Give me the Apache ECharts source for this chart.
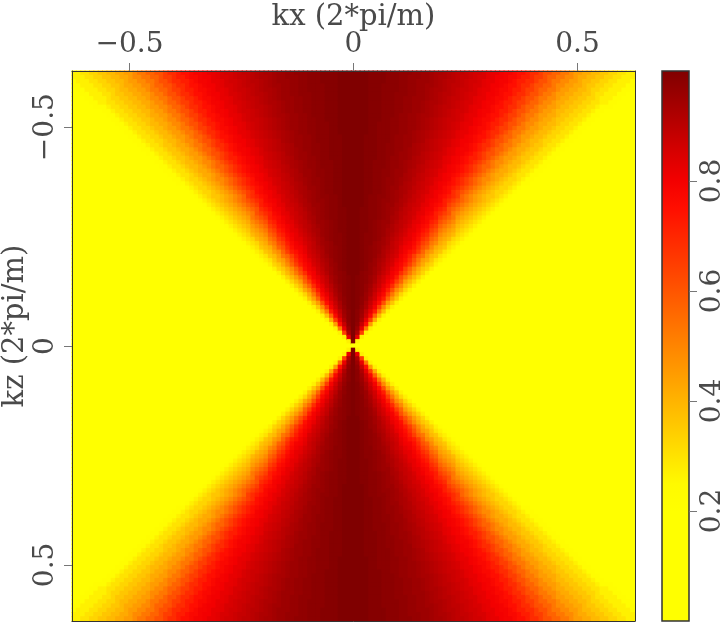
<!DOCTYPE html>
<html><head><meta charset="utf-8">
<script src="https://cdn.jsdelivr.net/npm/echarts@6/dist/echarts.min.js"></script>
<style>html,body{margin:0;padding:0;background:#fff}#c{width:722px;height:625px}</style>
</head><body><div id="c"></div>
<script>
const profileAngles = [0,1,2,3,4,5,6,7,8,9,10,11,12,13,14,15,16,17,18,19,20,21,22,23,24,25,26,27,28,29,30,31,32,33,34,35,36,37,38,39,40,41,42,43,44,45,46,47,48,49,50];
const profileValues = [1.00,1.00,1.00,1.00,0.99,0.99,0.99,0.98,0.98,0.98,0.97,0.97,0.96,0.96,0.95,0.95,0.94,0.93,0.92,0.91,0.90,0.89,0.88,0.87,0.86,0.85,0.83,0.82,0.80,0.79,0.77,0.75,0.72,0.69,0.65,0.61,0.57,0.53,0.49,0.45,0.42,0.39,0.36,0.33,0.30,0.27,0.22,0.16,0.10,0.05,0.02];
const outsideValue = 0;           // beyond the last angle: yellow
const nCells = 129;               // samples per axis, centred on k = 0
const kStep = 0.00974;            // sample interval (2*pi/m)
const axisTicks = [-0.5, 0, 0.5];
const barTicks = [0.2, 0.4, 0.6, 0.8];
const barMin = 0, barMax = 1;
// colour ramp, evenly spaced from 0 to 1
const rampColors = ['#ffff00','#ffff00','#ffff00','#ffff00','#ffff00','#fffa00','#ffe300','#ffcb00','#ffb400','#ff9c00','#ff8500','#ff6d00','#ff5500','#ff3d00','#ff2600','#ff0e00','#f30000','#d80000','#ba0000','#9d0000','#800000'];

const half = (nCells - 1) / 2;
const kMax = (half + 0.5) * kStep;
const data = [];
for (let i = 0; i < nCells; i++) {
  for (let j = 0; j < nCells; j++) {
    const a = (i - half), b = (j - half);
    let v = outsideValue;
    if (!(a === 0 && b === 0)) {
      const ang = Math.atan2(Math.abs(a), Math.abs(b)) * 180 / Math.PI;
      const idx = profileAngles.indexOf(Math.round(ang));
      if (idx >= 0) v = profileValues[idx];
    }
    data.push([a * kStep, b * kStep, v]);
  }
}

const L = { left: 72, top: 71, width: 563, height: 550 };
const B = { left: 662, top: 71, width: 27, height: 550 };
const font = 'DejaVu Serif';
const txt = '#4a4a4a';
const tickColor = '#777';
const frame = { show: true, onZero: false, lineStyle: { color: '#333', width: 1 } };
const fmt = v => v < 0 ? '\u2212' + Math.abs(v) : String(v);

const stops = rampColors.map((c, k) => ({ offset: 1 - k / (rampColors.length - 1), color: c })).reverse();

const chart = echarts.init(document.getElementById('c'));
chart.setOption({
  animation: false,
  backgroundColor: '#fff',
  grid: [
    { left: L.left, top: L.top, width: L.width, height: L.height, containLabel: false, outerBoundsMode: 'none' },
    { left: B.left, top: B.top, width: B.width, height: B.height, containLabel: false, outerBoundsMode: 'none' }
  ],
  xAxis: [
    { type: 'value', gridIndex: 0, position: 'top', min: -kMax, max: kMax, z: 10,
      name: 'kx (2*pi/m)', nameLocation: 'middle', nameGap: 39, nameMoveOverlap: false,
      nameTextStyle: { fontFamily: font, fontSize: 29, color: txt },
      axisLine: frame,
      axisTick: { show: true, inside: false, length: 8, customValues: axisTicks, lineStyle: { color: tickColor } },
      axisLabel: { show: true, customValues: axisTicks, formatter: fmt, margin: 12, fontFamily: font, fontSize: 28, color: txt },
      splitLine: { show: false } },
    { type: 'value', gridIndex: 0, position: 'bottom', min: -kMax, max: kMax, z: 10,
      axisLine: frame, axisTick: { show: false }, axisLabel: { show: false }, splitLine: { show: false } },
    { type: 'category', gridIndex: 1, data: [''], show: false }
  ],
  yAxis: [
    { type: 'value', gridIndex: 0, position: 'left', inverse: true, min: -kMax, max: kMax, z: 10,
      name: 'kz (2*pi/m)', nameLocation: 'middle', nameGap: 42, nameMoveOverlap: false,
      nameTextStyle: { fontFamily: font, fontSize: 29, color: txt, padding: [0, 0, 0, 40] },
      axisLine: frame,
      axisTick: { show: true, inside: false, length: 8, customValues: axisTicks, lineStyle: { color: tickColor } },
      axisLabel: { show: true, rotate: 90, customValues: axisTicks, formatter: fmt, margin: 12, fontFamily: font, fontSize: 28, color: txt },
      splitLine: { show: false } },
    { type: 'value', gridIndex: 0, position: 'right', inverse: true, min: -kMax, max: kMax, z: 10,
      axisLine: frame, axisTick: { show: false }, axisLabel: { show: false }, splitLine: { show: false } },
    { type: 'value', gridIndex: 1, position: 'right', min: barMin, max: barMax, z: 10,
      axisLine: { show: false },
      axisTick: { show: true, inside: false, length: 8, customValues: barTicks, lineStyle: { color: tickColor } },
      axisLabel: { show: true, rotate: 90, customValues: barTicks, margin: 10, fontFamily: font, fontSize: 28, color: txt },
      splitLine: { show: false } }
  ],
  visualMap: { show: false, type: 'continuous', min: barMin, max: barMax, dimension: 2, seriesIndex: 0, inRange: { color: rampColors } },
  graphic: [
    { type: 'rect', z: 5, shape: { x: B.left, y: B.top, width: B.width, height: B.height },
      style: { fill: new echarts.graphic.LinearGradient(0, 0, 0, 1, stops), stroke: '#333', lineWidth: 1.5 } }
  ],
  series: [{
    type: 'custom', xAxisIndex: 0, yAxisIndex: 0, data: data, clip: true,
    encode: { x: 0, y: 1 }, silent: true,
    renderItem: function (params, api) {
      const p0 = api.coord([api.value(0) - kStep / 2, api.value(1) - kStep / 2]);
      const p1 = api.coord([api.value(0) + kStep / 2, api.value(1) + kStep / 2]);
      const x = Math.min(p0[0], p1[0]), y = Math.min(p0[1], p1[1]);
      return { type: 'rect',
        shape: { x: x - 0.5, y: y - 0.5, width: Math.abs(p1[0] - p0[0]) + 1, height: Math.abs(p1[1] - p0[1]) + 1 },
        style: { fill: api.visual('color') } };
    }
  }]
});
</script></body></html>
